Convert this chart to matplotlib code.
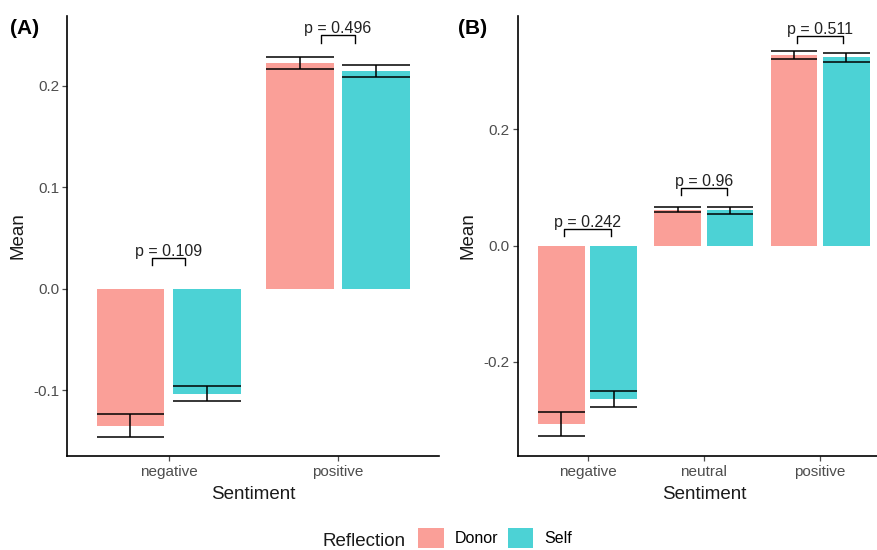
import matplotlib
matplotlib.use('Agg')
import matplotlib.pyplot as plt
from matplotlib.patches import Patch
import numpy as np

plt.rcParams['font.family'] = ['Liberation Sans', 'DejaVu Sans']

# panel A: two sentiment groups
sent_a = ['negative', 'positive']
donor_a = [-0.135, 0.2225]
donor_a_se = [0.0115, 0.006]
self_a = [-0.1035, 0.215]
self_a_se = [0.0075, 0.0058]
p_a = ['p = 0.109', 'p = 0.496']
p_a_y = [0.0307, 0.2498]

# panel B: three sentiment groups
sent_b = ['negative', 'neutral', 'positive']
donor_b = [-0.307, 0.062, 0.328]
donor_b_se = [0.021, 0.0046, 0.007]
self_b = [-0.2635, 0.061, 0.324]
self_b_se = [0.0132, 0.0058, 0.0073]
p_b = ['p = 0.242', 'p = 0.96', 'p = 0.511']
p_b_y = [0.0287, 0.0997, 0.3606]

donor_col = '#F8766D'
self_col = '#00BFC4'
grey30 = '#4D4D4D'


def panel(ax, cats, d, dse, s, sse, ptxt, py, half, ylim, yticks):
    x = np.arange(1, len(cats) + 1)
    w = 0.4
    ax.bar(x - 0.225, d, width=w, color=donor_col, alpha=0.7, linewidth=0)
    ax.bar(x + 0.225, s, width=w, color=self_col, alpha=0.7, linewidth=0)
    for off, m, e in [(-0.225, d, dse), (0.225, s, sse)]:
        ax.errorbar(x + off, m, yerr=e, fmt='none', ecolor='black',
                    elinewidth=1.1, capsize=0, zorder=3)
        m = np.array(m)
        e = np.array(e)
        ax.hlines(m - e, x + off - w / 2, x + off + w / 2, color='black', lw=1.1, zorder=3)
        ax.hlines(m + e, x + off - w / 2, x + off + w / 2, color='black', lw=1.1, zorder=3)
    # p-value brackets
    leg = 0.007 * (ylim[1] - ylim[0]) / 0.434
    for xi, t, yb in zip(x, ptxt, py):
        ax.plot([xi - half, xi - half, xi + half, xi + half],
                [yb - leg, yb, yb, yb - leg], color='black', lw=1.0)
        ax.annotate(t, xy=(xi, yb), xytext=(0, 1.5), textcoords='offset points',
                    ha='center', va='baseline', fontsize=11.5, color='#222222')
    ax.set_xlim(0.4, len(cats) + 0.6)
    ax.set_ylim(*ylim)
    ax.set_xticks(x)
    ax.set_xticklabels(cats)
    ax.set_yticks(yticks)
    ax.set_yticklabels(['%.1f' % v for v in yticks])
    for sp in ['top', 'right']:
        ax.spines[sp].set_visible(False)
    for sp in ['left', 'bottom']:
        ax.spines[sp].set_linewidth(1.2)
    ax.tick_params(axis='both', length=3.6, width=0.9, color=grey30,
                   labelsize=11, labelcolor=grey30)
    ax.tick_params(axis='x', pad=3)
    ax.tick_params(axis='y', pad=2)
    ax.set_xlabel('Sentiment', fontsize=13.5, va='center', color='#1a1a1a')
    ax.set_ylabel('Mean', fontsize=13.5, va='center', color='#1a1a1a')


fig = plt.figure(figsize=(8.77, 5.5), dpi=100)
ax1 = fig.add_axes([67 / 877, 1 - 456 / 550, 372.4 / 877, 440 / 550])
ax2 = fig.add_axes([517.7 / 877, 1 - 456 / 550, 372.3 / 877, 440 / 550])

panel(ax1, sent_a, donor_a, donor_a_se, self_a, self_a_se, p_a, p_a_y, 0.1,
      (-0.165, 0.269), [-0.1, 0.0, 0.1, 0.2])
panel(ax2, sent_b, donor_b, donor_b_se, self_b, self_b_se, p_b, p_b_y, 0.2,
      (-0.3617, 0.395), [-0.2, 0.0, 0.2])

ax1.yaxis.set_label_coords(-0.1316, 0.5)
ax2.yaxis.set_label_coords(-0.1335, 0.5)
ax1.xaxis.set_label_coords(0.5, -0.0886)
ax2.xaxis.set_label_coords(0.5, -0.0886)

fig.text(25 / 877, 1 - 28 / 550, '(A)', fontsize=15, fontweight='bold', ha='center', va='center')
fig.text(473 / 877, 1 - 28 / 550, '(B)', fontsize=15, fontweight='bold', ha='center', va='center')

# legend along the bottom
fig.text(406 / 877, 1 - 541 / 550, 'Reflection', fontsize=13.5, ha='right', va='center',
         color='#1a1a1a')
handles = [Patch(facecolor=donor_col, alpha=0.7, linewidth=0),
           Patch(facecolor=self_col, alpha=0.7, linewidth=0)]
fig.legend(handles, ['Donor', 'Self'], loc='center left',
           bbox_to_anchor=(418 / 877, 1 - 538 / 550), ncol=2, frameon=False,
           fontsize=11.5, handlelength=1.6, handleheight=1.6,
           handletextpad=0.7, columnspacing=0.6, borderpad=0, borderaxespad=0)

fig.savefig('out.png', dpi=100)
